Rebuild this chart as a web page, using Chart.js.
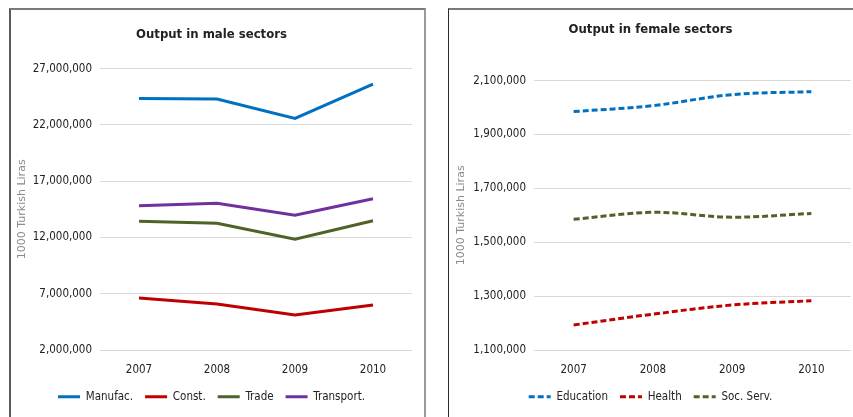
<!DOCTYPE html>
<html>
<head>
<meta charset="utf-8" />
<title>Output by sector</title>
<script src="https://cdn.jsdelivr.net/npm/chart.js"></script>
<style>
  html, body { margin: 0; padding: 0; background: #fff; }
  body { width: 853px; height: 417px; overflow: hidden; position: relative; }
  .panel { position: absolute; top: 8px; height: 430px; box-sizing: border-box; background: #fff; }
  #malePanel { left: 9px; width: 417px; border-top: 2px solid #7a7a7a; border-left: 2px solid #5a5a5a; border-right: 2px solid #9a9a9a; }
  #femalePanel { left: 448px; width: 430px; border-top: 2px solid #7a7a7a; border-left: 1px solid #2a2a2a; }
  canvas { position: absolute; top: 0; }
</style>
</head>
<body>
<div class="panel" id="malePanel"><canvas id="maleChart" width="412" height="407" style="left:0"></canvas></div>
<div class="panel" id="femalePanel"><canvas id="femaleChart" width="412" height="407" style="left:1px"></canvas></div>
<script>
// years on the x axis
const years = ['2007', '2008', '2009', '2010'];

// male-dominated sectors, 1000 TL
const manufac = [24350000, 24300000, 22570000, 25630000];
const constr = [6610000, 6080000, 5100000, 5990000];
const trade = [13440000, 13260000, 11840000, 13480000];
const transport = [14810000, 15030000, 13970000, 15430000];

// female-dominated sectors, 1000 TL
const education = [1985000, 2007000, 2048000, 2059000];
const health = [1193000, 1233000, 1267000, 1283000];
const socServ = [1585000, 1611000, 1593000, 1607000];

const maleTicks = { min: 2000000, max: 27000000, step: 5000000 };
const femaleTicks = { min: 1100000, max: 2100000, step: 200000 };

const narrow = '"DejaVu Sans Condensed", "DejaVu Sans", sans-serif';
const txt = '#222';

function series(label, data, color, dashed, smooth) {
  return {
    label: label,
    data: data,
    borderColor: color,
    backgroundColor: color,
    borderWidth: 3,
    borderDash: dashed ? [6, 3] : [],
    tension: smooth ? 0.35 : 0,
    pointRadius: 0,
    pointHoverRadius: 0,
    fill: false
  };
}

function makeChart(id, title, datasets, ticks, axisWidth, titlePad) {
  return new Chart(document.getElementById(id), {
    type: 'line',
    data: { labels: years, datasets: datasets },
    options: {
      responsive: false,
      animation: false,
      layout: { padding: { left: 0, right: 11, top: 0, bottom: 4.5 } },
      plugins: {
        tooltip: { enabled: false },
        title: {
          display: true,
          text: title,
          color: txt,
          font: { family: narrow, size: 13, weight: 'bold' },
          padding: titlePad
        },
        legend: {
          position: 'bottom',
          labels: {
            color: txt,
            font: { family: narrow, size: 11.5 },
            usePointStyle: true,
            pointStyleWidth: 22,
            boxHeight: 3,
            padding: 12,
            generateLabels: function (chart) {
              return chart.data.datasets.map(function (ds, i) {
                return {
                  text: ds.label,
                  datasetIndex: i,
                  pointStyle: 'line',
                  strokeStyle: ds.borderColor,
                  fillStyle: ds.borderColor,
                  lineWidth: 3,
                  lineDash: ds.borderDash,
                  fontColor: txt
                };
              });
            }
          }
        }
      },
      scales: {
        x: {
          offset: true,
          // keep the year row tight so the legend sits close below it
          afterFit: function (scale) { scale.height = 29; },
          grid: { display: false, drawTicks: false },
          border: { display: false },
          ticks: { color: txt, padding: 13, font: { family: narrow, size: 11.5 } }
        },
        y: {
          min: ticks.min,
          max: ticks.max,
          afterFit: function (scale) { scale.width = axisWidth; },
          grid: { color: '#d9d9d9', lineWidth: 1, drawTicks: false },
          border: { display: false },
          ticks: {
            stepSize: ticks.step,
            color: txt,
            padding: 8,
            font: { family: narrow, size: 11.5 },
            callback: function (v) { return v.toLocaleString('en-US'); }
          },
          title: {
            display: true,
            text: '1000 Turkish Liras',
            color: '#8a8a8a',
            font: { family: '"DejaVu Sans", sans-serif', size: 11 },
            padding: { top: 5, bottom: 0 }
          }
        }
      }
    }
  });
}

makeChart('maleChart', 'Output in male sectors', [
  series('Manufac.', manufac, '#0070c0', false, false),
  series('Const.', constr, '#c00000', false, false),
  series('Trade', trade, '#4f6228', false, false),
  series('Transport.', transport, '#7030a0', false, false)
], maleTicks, 89, { top: 17, bottom: 26 });

makeChart('femaleChart', 'Output in female sectors', [
  series('Education', education, '#0070c0', true, true),
  series('Health', health, '#c00000', true, true),
  series('Soc. Serv.', socServ, '#4f6228', true, true)
], femaleTicks, 84, { top: 12, bottom: 43 });
</script>
</body>
</html>
